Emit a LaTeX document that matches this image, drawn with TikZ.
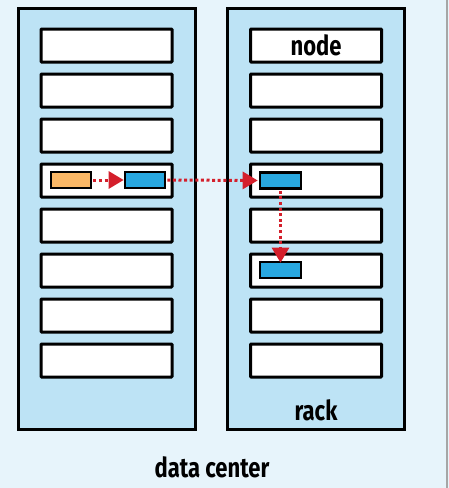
\documentclass[tikz,border=0pt]{standalone}
\usepackage{fontspec}
\setmainfont[FakeStretch=0.8]{Fira Sans}
\usetikzlibrary{arrows.meta}
\definecolor{bgc}{HTML}{E7F4FB}
\definecolor{rackc}{HTML}{BDE3F5}
\definecolor{orangec}{HTML}{FBB866}
\definecolor{bluec}{HTML}{29A8E0}
\definecolor{redc}{HTML}{D41F2B}
\tikzset{
  rackbox/.style={draw=black, fill=rackc, line width=3pt, minimum width=177, minimum height=421, inner sep=0pt},
  slotbox/.style={draw=black, fill=white, line width=3pt, minimum width=131, minimum height=33, inner sep=0pt, rounded corners=0.8pt},
  taskbox/.style={draw=black, line width=2.6pt, minimum width=40, minimum height=16, inner sep=0pt},
  dotarrow/.style={draw=redc, line width=3pt, dash pattern=on 3pt off 2.6pt, -{Triangle[width=17pt,length=15pt,fill=redc]}},
  lbl/.style={font=\bfseries\fontsize{27.5}{30}\selectfont, text=black, inner sep=0pt}
}
\begin{document}
\begin{tikzpicture}[x=1pt,y=-1pt]
\useasboundingbox (0,0) rectangle (449,488);
\fill[bgc] (0,0) rectangle (449,488);
\draw[black!35, line width=1.5pt] (447,0) -- (447,488);
\node[rackbox] (rackL) at (106.5,218.5) {};
\node[rackbox] (rackR) at (316,218.5) {};
\foreach \i in {1,...,8} {
  \node[slotbox] (sl\i) at (106.5,{45.5+45*(\i-1)}) {};
  \node[slotbox] (sr\i) at (316,{45.5+45*(\i-1)}) {};
}
\node[lbl, anchor=base] (nodelbl) at ([yshift=-9.5pt]sr1.center) {node};
\node[lbl, anchor=base] (racklbl) at (316,420) {rack};
\node[lbl, anchor=base] (dclbl) at (212,477) {data center};
\node[taskbox, fill=orangec] (orng) at (71,180) {};
\node[taskbox, fill=bluec] (blueL) at (145,180) {};
\node[taskbox, fill=bluec, minimum width=41] (blueR) at (280.5,180.5) {};
\node[taskbox, fill=bluec, minimum width=41] (blueD) at (280.5,270) {};
\draw[dotarrow, shorten <=1pt] (orng.east) -- (blueL.west);
\draw[dotarrow, shorten <=1pt] (blueL.east) -- ([xshift=-1pt]blueR.west);
\draw[dotarrow, shorten <=1pt] (blueR.south) -- ([yshift=-2pt]blueD.north);
\end{tikzpicture}
\end{document}
